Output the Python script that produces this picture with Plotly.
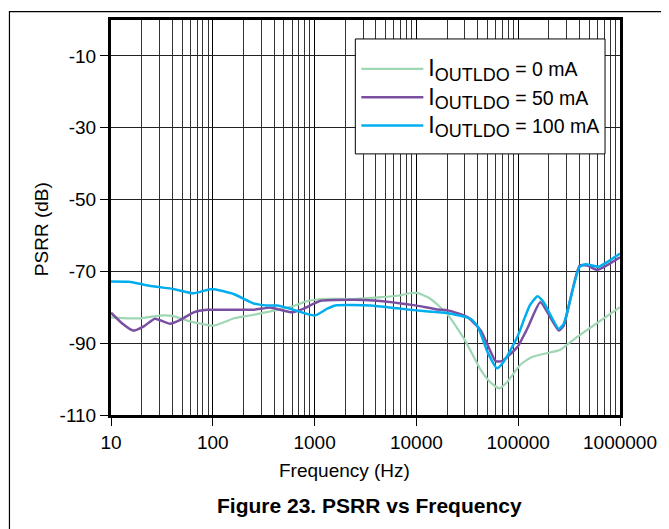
import plotly.graph_objects as go

FONT = "Liberation Sans, Arial, Helvetica, sans-serif"

# I_OUTLDO = 0 mA
freq_0ma = [10, 13, 19.5, 30, 40, 56, 102, 165, 230, 420, 600, 820, 1150, 2500, 4500,
            6500, 8700, 10200, 13500, 20000, 30000, 43000, 53000, 65000, 78000, 105000,
            135000, 190000, 260000, 350000, 1000000]
psrr_0ma = [-82.8, -83.0, -83.1, -82.3, -82.4, -83.7, -85.1, -83.0, -82.3, -80.8, -79.8,
            -78.4, -77.7, -77.7, -77.2, -76.8, -76.1, -76.0, -77.5, -81.8, -89.2, -97.5,
            -100.8, -102.6, -100.8, -96.0, -93.9, -92.8, -91.8, -89.0, -80.0]

# I_OUTLDO = 50 mA
freq_50ma = [10, 13, 16.5, 21, 27, 38, 48, 65, 88, 250, 370, 600, 750, 1150, 2450, 3800,
             9400, 16000, 20000, 32000, 43000, 60000, 69000, 98000, 125000, 165000,
             250000, 280000, 400000, 480000, 600000, 1000000]
psrr_50ma = [-81.5, -84.6, -86.5, -85.3, -83.2, -84.6, -83.5, -81.4, -80.7, -80.7, -80.1,
             -81.4, -80.6, -78.2, -77.9, -78.1, -79.4, -80.6, -80.8, -82.8, -86.5, -95.0,
             -95.0, -91.1, -85.5, -78.6, -86.5, -85.1, -68.4, -68.4, -69.6, -66.1]

# I_OUTLDO = 100 mA
freq_100ma = [10, 15, 21, 28, 41, 65, 98, 160, 250, 340, 430, 575, 1000, 1330, 1600, 3550,
              6500, 11000, 20000, 34000, 40000, 50000, 62000, 72000, 98000, 130000, 155000,
              178000, 250000, 280000, 400000, 460000, 615000, 1000000]
psrr_100ma = [-72.8, -72.9, -73.7, -74.3, -74.9, -76.1, -74.9, -76.3, -78.9, -79.5, -79.5,
              -80.4, -82.3, -80.4, -79.5, -79.5, -80.3, -81.0, -81.6, -83.2, -85.3, -92.5,
              -97.0, -95.2, -88.3, -79.5, -76.9, -78.6, -86.0, -84.6, -68.8, -68.0, -68.7,
              -65.0]

x_ticks = [10, 100, 1000, 10000, 100000, 1000000]
x_minor = [m * d for d in x_ticks[:-1] for m in range(2, 10)]
y_ticks = [-110, -90, -70, -50, -30, -10]


def legend_name(ma: str) -> str:
    return ("<span style='font-size:23px'>I</span>"
            "<sub><span style='font-size:18px'>OUTLDO</span></sub> = " + ma + " mA")


fig = go.Figure()
for xs, ys, label, color, width in [
    (freq_0ma, psrr_0ma, "0", "#9fd6b3", 2.2),
    (freq_50ma, psrr_50ma, "50", "#7a4fa1", 2.5),
    (freq_100ma, psrr_100ma, "100", "#00aeef", 2.5),
]:
    fig.add_trace(go.Scatter(
        x=xs, y=ys, mode="lines", name=legend_name(label),
        line=dict(color=color, width=width, shape="spline", smoothing=0.5),
    ))

# page has an 8px body margin, so the figure is 8px smaller than the window
fig.update_layout(
    width=661,
    height=521,
    margin=dict(l=102.5, r=49, t=9, b=114),
    paper_bgcolor="#ffffff",
    plot_bgcolor="#ffffff",
    font=dict(family=FONT, size=19, color="#000000"),
    showlegend=True,
    legend=dict(
        x=0.482, y=0.925, xanchor="left", yanchor="top",
        bgcolor="rgba(0,0,0,0)", borderwidth=0,
        font=dict(family=FONT, size=19.5, color="#000000"),
        tracegroupgap=0, itemwidth=62,
    ),
)

fig.update_xaxes(
    type="log",
    range=[1, 6],
    tickmode="array",
    tickvals=x_ticks,
    ticktext=[str(v) for v in x_ticks],
    ticks="outside", ticklen=8, tickcolor="#000000",
    showgrid=True, gridcolor="#000000", gridwidth=1,
    minor=dict(tickmode="array", tickvals=x_minor, showgrid=True,
               gridcolor="#333333", gridwidth=1, ticks=""),
    showline=True, linecolor="#000000", linewidth=3, mirror=True,
    zeroline=False,
    tickfont=dict(family=FONT, size=19, color="#000000"),
)
fig.update_yaxes(
    range=[-110, 0],
    tickmode="array",
    tickvals=y_ticks,
    ticktext=[str(v) for v in y_ticks],
    ticks="outside", ticklen=8, tickcolor="#000000",
    showgrid=True, gridcolor="#222222", gridwidth=1,
    showline=True, linecolor="#000000", linewidth=3, mirror=True,
    zeroline=False,
    tickfont=dict(family=FONT, size=19, color="#000000"),
)

fig.add_annotation(text="Frequency (Hz)", xref="paper", yref="paper",
                   x=0.458, y=-0.141, xanchor="center", yanchor="middle",
                   showarrow=False, font=dict(family=FONT, size=19))
fig.add_annotation(text="PSRR (dB)", xref="paper", yref="paper",
                   x=-0.136, y=0.47, xanchor="center", yanchor="middle",
                   textangle=-90, showarrow=False, font=dict(family=FONT, size=19))
fig.add_annotation(text="<b>Figure 23. PSRR vs Frequency</b>", xref="paper", yref="paper",
                   x=0.507, y=-0.23, xanchor="center", yanchor="middle",
                   showarrow=False, font=dict(family=FONT, size=21))

# legend box
fig.add_shape(type="rect", xref="paper", yref="paper",
              x0=0.480, x1=0.9706, y0=0.661, y1=0.952,
              fillcolor="#ffffff", line=dict(color="#000000", width=1), layer="above")

# outer figure frame
fig.add_shape(type="rect", xref="paper", yref="paper",
              x0=-0.1995, x1=1.0935, y0=-0.45, y1=1.021,
              line=dict(color="#000000", width=1.2), layer="below")

fig.write_html("out.html")
